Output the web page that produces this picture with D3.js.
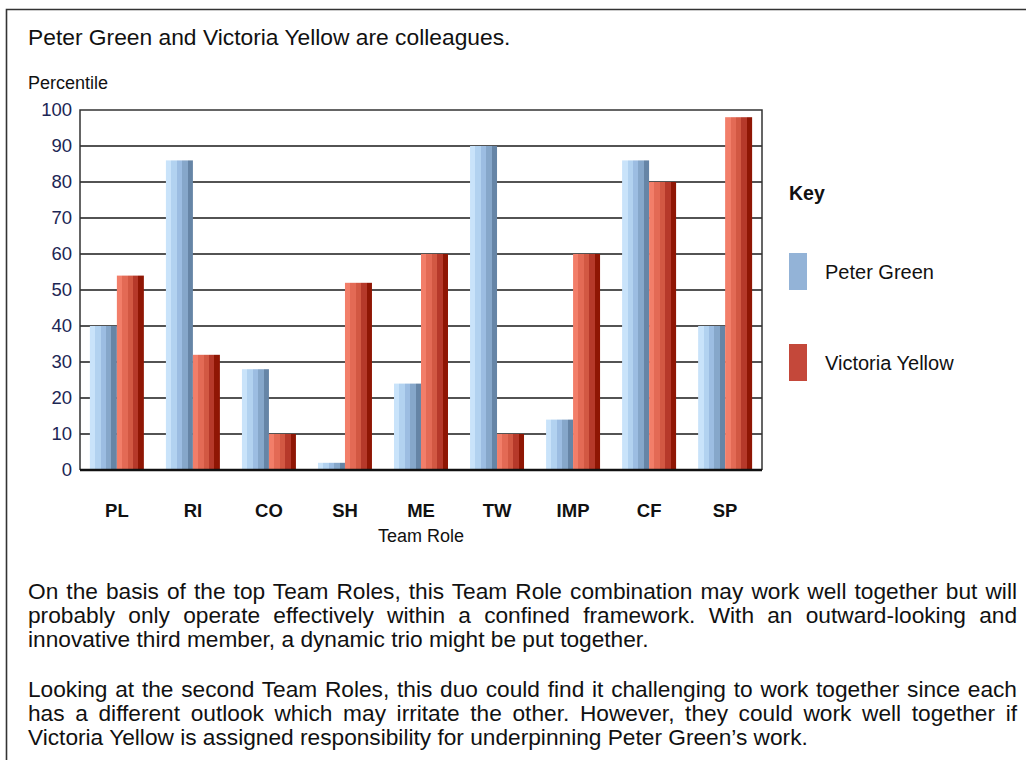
<!DOCTYPE html>
<html>
<head>
<meta charset="utf-8">
<script src="https://cdn.jsdelivr.net/npm/d3@7"></script>
<style>
  body { margin: 0; background: #fff; font-family: "Liberation Sans", Arial, sans-serif; }
  #container { position: relative; width: 1026px; height: 760px; overflow: hidden; }
  svg { position: absolute; left: 0; top: 0; }
  .para { position: absolute; left: 28px; width: 989px; font-size: 22.7px; line-height: 24px; color: #111; }
  .para div { text-align: justify; text-align-last: justify; white-space: nowrap; }
  .para div.last { text-align-last: left; }
</style>
</head>
<body>
<div id="container"></div>
<script>
// Width and height
let w = 1026;
let h = 760;

// Chart data
let roles = ["PL", "RI", "CO", "SH", "ME", "TW", "IMP", "CF", "SP"];
let people = ["Peter Green", "Victoria Yellow"];
let peterValues = [40, 86, 28, 2, 24, 90, 14, 86, 40];
let victoriaValues = [54, 32, 10, 52, 60, 10, 60, 80, 98];
let yTicks = [0, 10, 20, 30, 40, 50, 60, 70, 80, 90, 100];

let para1 = [
  "On the basis of the top Team Roles, this Team Role combination may work well together but will",
  "probably only operate effectively within a confined framework. With an outward-looking and",
  "innovative third member, a dynamic trio might be put together."
];
let para2 = [
  "Looking at the second Team Roles, this duo could find it challenging to work together since each",
  "has a different outlook which may irritate the other. However, they could work well together if",
  "Victoria Yellow is assigned responsibility for underpinning Peter Green\u2019s work."
];

// Plot box
let plot = { left: 80, right: 762, top: 110, bottom: 470 };

let container = d3.select("#container");

let svg = container.append("svg")
  .attr("width", w)
  .attr("height", h);

// Page frame (only left and top edges visible)
svg.append("path")
  .attr("d", "M6.5," + h + " V9.5 H" + w)
  .attr("fill", "none")
  .attr("stroke", "#333")
  .attr("stroke-width", 1.6);

// Stripey bar gradients
let defs = svg.append("defs");
let gradColors = {
  "Peter Green": ["#c9e3fa", "#b2d2f0", "#9cbde2", "#86a7ca", "#6685a6"],
  "Victoria Yellow": ["#f27e69", "#e36a55", "#d25843", "#b6392a", "#8f1604"]
};
people.forEach(function(p, i) {
  let g = defs.append("linearGradient")
    .attr("id", "grad" + i)
    .attr("x1", "0%").attr("x2", "100%")
    .attr("y1", "0%").attr("y2", "0%");
  let cols = gradColors[p];
  cols.forEach(function(c, k) {
    g.append("stop").attr("offset", (k / cols.length * 100) + "%").attr("stop-color", c);
    g.append("stop").attr("offset", ((k + 1) / cols.length * 100) + "%").attr("stop-color", c);
  });
});

// Scales
let x0 = d3.scaleBand()
  .domain(roles)
  .range([plot.left, plot.right])
  .paddingInner(0.29)
  .paddingOuter(0.13);

let x1 = d3.scaleBand()
  .domain(people)
  .range([0, x0.bandwidth()]);

let y = d3.scaleLinear()
  .domain([0, 100])
  .range([plot.bottom, plot.top]);

// Title
svg.append("text")
  .attr("x", 28).attr("y", 45)
  .style("font-size", "22.8px")
  .style("fill", "#111")
  .text("Peter Green and Victoria Yellow are colleagues.");

svg.append("text")
  .attr("x", 28).attr("y", 89)
  .style("font-size", "18px")
  .style("fill", "#111")
  .text("Percentile");

// Gridlines
svg.append("g")
  .selectAll("line")
  .data(yTicks.filter(function(d) { return d > 0 && d < 100; }))
  .enter()
  .append("line")
  .attr("x1", plot.left).attr("x2", plot.right)
  .attr("y1", function(d) { return y(d); })
  .attr("y2", function(d) { return y(d); })
  .attr("stroke", "#1a1a1a")
  .attr("stroke-width", 1.4);

// Plot frame top/left/right
svg.append("path")
  .attr("d", "M" + plot.left + "," + plot.bottom + " V" + plot.top + " H" + plot.right + " V" + plot.bottom)
  .attr("fill", "none")
  .attr("stroke", "#333")
  .attr("stroke-width", 1.5);

// Y axis labels
let yAxis = d3.axisLeft(y).tickValues(yTicks).tickSize(0).tickPadding(8);
let yg = svg.append("g")
  .attr("transform", "translate(" + plot.left + ",0)")
  .call(yAxis);
yg.select(".domain").remove();
yg.selectAll("text")
  .style("font-family", "'Liberation Sans', Arial, sans-serif")
  .style("font-size", "18.5px")
  .style("fill", "#1c2654");

// Bars
let rows = roles.map(function(r, i) {
  return { role: r, values: [peterValues[i], victoriaValues[i]] };
});

let groups = svg.append("g")
  .selectAll("g")
  .data(rows)
  .enter()
  .append("g")
  .attr("transform", function(d) { return "translate(" + x0(d.role) + ",0)"; });

groups.selectAll("rect")
  .data(function(d) {
    return people.map(function(p, i) { return { person: p, idx: i, value: d.values[i] }; });
  })
  .enter()
  .append("rect")
  .attr("x", function(d) { return x1(d.person); })
  .attr("width", x1.bandwidth())
  .attr("y", function(d) { return y(d.value); })
  .attr("height", function(d) { return y(0) - y(d.value); })
  .attr("fill", function(d) { return "url(#grad" + d.idx + ")"; });

// Bottom axis line
svg.append("line")
  .attr("x1", plot.left).attr("x2", plot.right)
  .attr("y1", plot.bottom).attr("y2", plot.bottom)
  .attr("stroke", "#111")
  .attr("stroke-width", 2.4);

// X axis labels
let xAxis = d3.axisBottom(x0).tickSize(0).tickPadding(0);
let xg = svg.append("g")
  .attr("transform", "translate(0," + (plot.bottom + 32) + ")")
  .call(xAxis);
xg.select(".domain").remove();
xg.selectAll("text")
  .attr("dy", "0.8em")
  .style("font-family", "'Liberation Sans', Arial, sans-serif")
  .style("font-size", "18.5px")
  .style("font-weight", "bold")
  .style("fill", "#111");

svg.append("text")
  .attr("x", (plot.left + plot.right) / 2)
  .attr("y", 542)
  .attr("text-anchor", "middle")
  .style("font-size", "18px")
  .style("fill", "#111")
  .text("Team Role");

// Legend
let legend = svg.append("g");
legend.append("text")
  .attr("x", 789).attr("y", 200)
  .style("font-size", "19.5px")
  .style("font-weight", "bold")
  .style("fill", "#111")
  .text("Key");

let legendColors = ["#93b3d7", "#c4483a"];
let legendTop = [253, 344];
people.forEach(function(p, i) {
  legend.append("rect")
    .attr("x", 789).attr("y", legendTop[i])
    .attr("width", 18).attr("height", 37)
    .attr("fill", legendColors[i]);
  legend.append("text")
    .attr("x", 825).attr("y", legendTop[i] + 26)
    .style("font-size", "20px")
    .style("fill", "#111")
    .text(p);
});

// Paragraphs
function addPara(lines, top) {
  let box = container.append("div")
    .attr("class", "para")
    .style("top", top + "px");
  box.selectAll("div")
    .data(lines)
    .enter()
    .append("div")
    .attr("class", function(d, i) { return i === lines.length - 1 ? "last" : null; })
    .text(function(d) { return d; });
}
addPara(para1, 579);
addPara(para2, 677);
</script>
</body>
</html>
